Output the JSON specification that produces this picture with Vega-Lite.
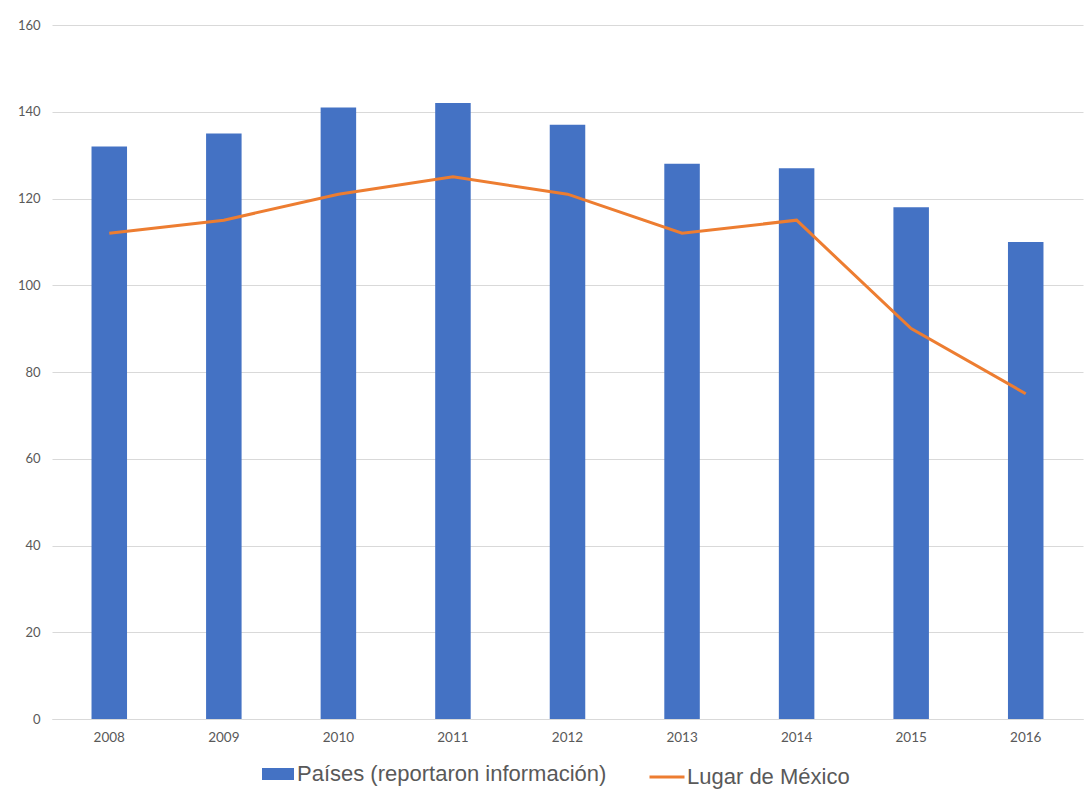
{
  "$schema": "https://vega.github.io/schema/vega-lite/v6.json",
  "autosize": {"type": "none"},
  "width": 1031,
  "height": 694,
  "padding": {"left": 52, "top": 25, "right": 6, "bottom": 76},
  "background": "#ffffff",
  "data": {
    "values": [
      {"anio": "2008", "paises": 132, "lugar": 112},
      {"anio": "2009", "paises": 135, "lugar": 115},
      {"anio": "2010", "paises": 141, "lugar": 121},
      {"anio": "2011", "paises": 142, "lugar": 125},
      {"anio": "2012", "paises": 137, "lugar": 121},
      {"anio": "2013", "paises": 128, "lugar": 112},
      {"anio": "2014", "paises": 127, "lugar": 115},
      {"anio": "2015", "paises": 118, "lugar": 90},
      {"anio": "2016", "paises": 110, "lugar": 75}
    ]
  },
  "encoding": {
    "x": {
      "field": "anio",
      "type": "ordinal",
      "title": null,
      "scale": {"paddingInner": 0.69, "paddingOuter": 0.345},
      "axis": {
        "labelAngle": 0,
        "ticks": false,
        "domain": true,
        "domainColor": "#d9d9d9",
        "domainWidth": 1,
        "grid": false,
        "labelFont": "Lato",
        "labelFontSize": 13.5,
        "labelColor": "#595959",
        "labelPadding": 11
      }
    }
  },
  "layer": [
    {
      "mark": {"type": "bar"},
      "encoding": {
        "y": {
          "field": "paises",
          "type": "quantitative",
          "title": null,
          "scale": {"domain": [0, 160], "nice": false},
          "axis": {
            "values": [0, 20, 40, 60, 80, 100, 120, 140, 160],
            "domain": false,
            "ticks": false,
            "grid": true,
            "gridColor": "#d9d9d9",
            "gridWidth": 1,
            "labelFont": "Lato",
            "labelFontSize": 13,
            "labelColor": "#595959",
            "labelPadding": 12
          }
        },
        "fill": {
          "datum": "Países (reportaron información)",
          "type": "nominal",
          "scale": {"range": ["#4472C4"]},
          "legend": {
            "title": null,
            "orient": "none",
            "legendX": 210,
            "legendY": 733,
            "symbolType": "M-1,-0.375H1V0.375H-1Z",
            "symbolSize": 1024,
            "symbolStrokeWidth": 0,
            "labelFont": "Liberation Sans",
            "labelFontSize": 22,
            "labelColor": "#595959",
            "labelOffset": 3,
            "labelLimit": 0
          }
        }
      }
    },
    {
      "mark": {"type": "line", "strokeWidth": 3},
      "encoding": {
        "y": {"field": "lugar", "type": "quantitative"},
        "stroke": {
          "datum": "Lugar de México",
          "type": "nominal",
          "scale": {"range": ["#ED7D31"]},
          "legend": {
            "title": null,
            "orient": "none",
            "legendX": 596,
            "legendY": 733,
            "symbolType": "stroke",
            "symbolSize": 1225,
            "symbolStrokeWidth": 3,
            "labelFont": "Liberation Sans",
            "labelFontSize": 22,
            "labelColor": "#595959",
            "labelOffset": 1,
            "labelLimit": 0
          }
        }
      }
    }
  ],
  "config": {
    "view": {"stroke": null}
  }
}
